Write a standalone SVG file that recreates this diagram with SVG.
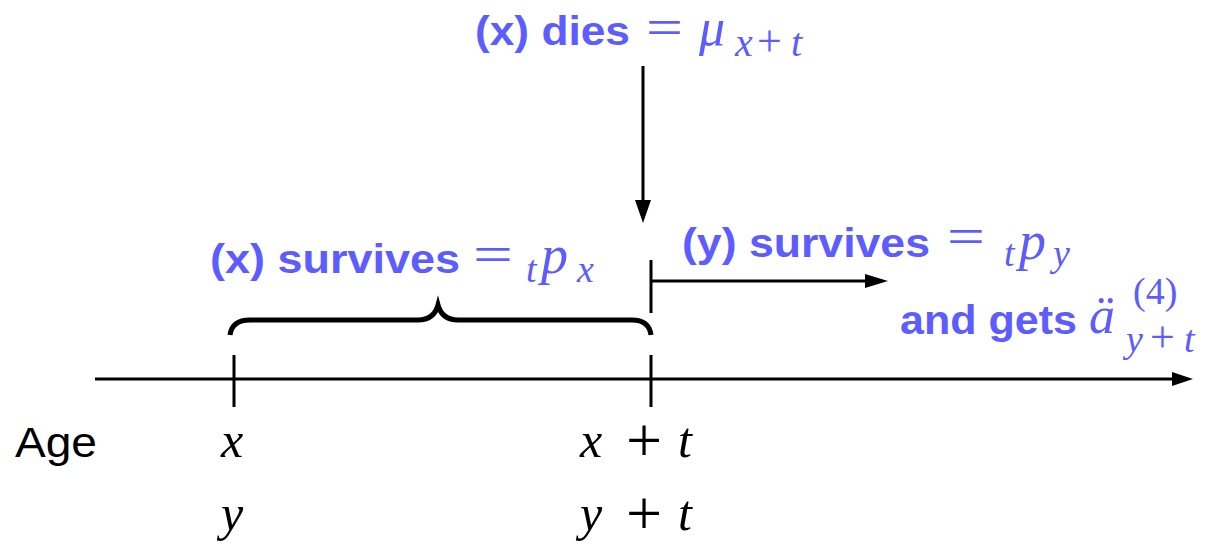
<svg xmlns="http://www.w3.org/2000/svg" width="1205" height="548" viewBox="0 0 1205 548">
<defs>
<style>
.lbl{fill:#5c5cff;font-family:"Liberation Sans",Arial,sans-serif;font-weight:bold}
.m{fill:#5c5cff;font-family:"Liberation Serif","Times New Roman",serif;font-style:italic}
.mr{fill:#5c5cff;font-family:"Liberation Serif","Times New Roman",serif}
.k{fill:#000;font-family:"Liberation Serif","Times New Roman",serif;font-style:italic}
.kr{fill:#000;font-family:"Liberation Serif","Times New Roman",serif}
.ln{stroke:#000;stroke-width:3;fill:none}
</style>
</defs>
<rect width="1205" height="548" fill="#fff"/>
<g id="connectors">
<line class="ln" x1="95" y1="379" x2="1180" y2="379"/>
<path d="M1172,372 L1193,379 L1172,386 z" fill="#000"/>
<line class="ln" x1="643" y1="66" x2="643" y2="210"/>
<path d="M635,200 L643,223 L651,200 z" fill="#000"/>
<line class="ln" x1="651" y1="260" x2="651" y2="313"/>
<line class="ln" x1="651" y1="281" x2="870" y2="281"/>
<path d="M865,274 L888,281 L865,288 z" fill="#000"/>
<line class="ln" x1="234" y1="355" x2="234" y2="407"/>
<line class="ln" x1="651" y1="355" x2="651" y2="407"/>
<path d="M230,335 Q232,320 250,320 L418,320 Q434,320 438,305 Q442,320 458,320 L632,320 Q649,320 651,335" stroke="#000" stroke-width="5" fill="none"/>
</g>
<g id="dies">
<text class="lbl" x="475" y="45" font-size="40" textLength="155" lengthAdjust="spacingAndGlyphs">(x) dies</text>
<text class="mr" x="646" y="45" font-size="52" textLength="37" lengthAdjust="spacingAndGlyphs">=</text>
<text class="m" x="699" y="45" font-size="52">μ</text>
<text class="m" x="735" y="56" font-size="40">x</text>
<text class="mr" x="757" y="56" font-size="44">+</text>
<text class="m" x="791" y="56" font-size="40">t</text>
</g>
<g id="xsurv">
<text class="lbl" x="210" y="273" font-size="40" textLength="250" lengthAdjust="spacingAndGlyphs">(x) survives</text>
<text class="mr" x="473" y="272" font-size="52" textLength="40" lengthAdjust="spacingAndGlyphs">=</text>
<text class="m" x="526" y="282" font-size="38">t</text>
<text class="m" x="541" y="273" font-size="54">p</text>
<text class="m" x="577" y="282" font-size="38">x</text>
</g>
<g id="ysurv">
<text class="lbl" x="682" y="257" font-size="40" textLength="248" lengthAdjust="spacingAndGlyphs">(y) survives</text>
<text class="mr" x="947" y="254" font-size="52" textLength="38" lengthAdjust="spacingAndGlyphs">=</text>
<text class="m" x="1004" y="266" font-size="38">t</text>
<text class="m" x="1019" y="259" font-size="54">p</text>
<text class="m" x="1053" y="266" font-size="38">y</text>
</g>
<g id="gets">
<text class="lbl" x="900" y="334" font-size="40" textLength="177" lengthAdjust="spacingAndGlyphs">and gets</text>
<text class="m" x="1089" y="333" font-size="52">ä</text>
<text class="mr" x="1133" y="304" font-size="38">(4)</text>
<text class="m" x="1126" y="352" font-size="38">y</text>
<text class="mr" x="1150" y="352" font-size="44">+</text>
<text class="m" x="1184" y="352" font-size="38">t</text>
</g>
<g id="labels">
<text x="15" y="457" font-size="42" font-family="Liberation Sans,Arial,sans-serif" fill="#000" textLength="82" lengthAdjust="spacingAndGlyphs">Age</text>
<text class="k" x="221" y="457" font-size="50">x</text>
<text class="k" x="580" y="457" font-size="50">x</text>
<text class="kr" x="626" y="462" font-size="64">+</text>
<text class="k" x="678" y="457" font-size="50">t</text>
<text class="k" x="221" y="530" font-size="50">y</text>
<text class="k" x="580" y="530" font-size="50">y</text>
<text class="kr" x="626" y="535" font-size="64">+</text>
<text class="k" x="678" y="530" font-size="50">t</text>
</g>
</svg>
